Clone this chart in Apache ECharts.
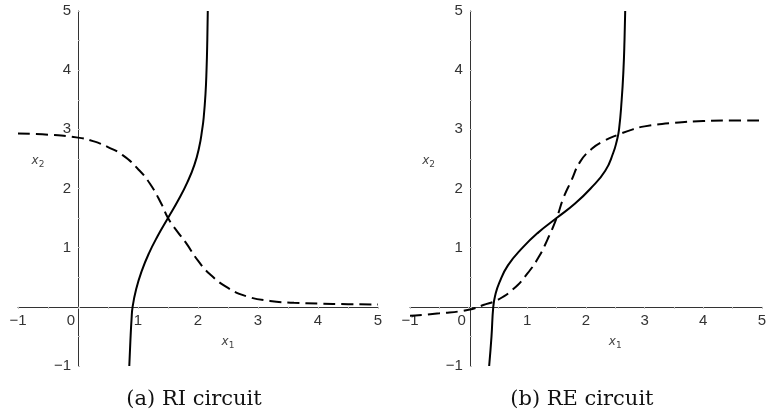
<!DOCTYPE html>
<html>
<head>
<meta charset="utf-8">
<script src="https://cdn.jsdelivr.net/npm/echarts@6/dist/echarts.min.js"></script>
<style>
  html, body { margin: 0; padding: 0; background: #fff; }
  #main { width: 769px; height: 418px; }
</style>
</head>
<body>
<div id="main"></div>
<script>
// (a) RI circuit
const riSolidX = [0.855, 0.872, 0.893, 0.91, 0.97, 1.06, 1.18, 1.33, 1.5, 1.67, 1.82, 1.94, 2.02, 2.07, 2.095, 2.125, 2.142, 2.155, 2.163];
const riSolidY = [-1, -0.6, -0.2, 0, 0.3, 0.6, 0.9, 1.2, 1.5, 1.8, 2.1, 2.4, 2.7, 3.0, 3.2, 3.6, 4.0, 4.5, 5.0];
const riDashX = [-1, -0.5, 0, 0.25, 0.5, 0.75, 1.0, 1.2, 1.4, 1.5, 1.65, 1.8, 2.0, 2.2, 2.5, 2.8, 3.2, 3.6, 4.0, 4.5, 5.0];
const riDashY = [2.93, 2.91, 2.86, 2.80, 2.70, 2.56, 2.33, 2.08, 1.72, 1.5, 1.28, 1.08, 0.78, 0.55, 0.32, 0.18, 0.10, 0.07, 0.055, 0.045, 0.04];

// (b) RE circuit
const reSolidX = [0.35, 0.39, 0.42, 0.455, 0.52, 0.67, 0.92, 1.18, 1.5, 1.82, 2.08, 2.33, 2.465, 2.525, 2.565, 2.61, 2.64, 2.658, 2.67];
const reSolidY = [-1, -0.5, 0, 0.2, 0.4, 0.7, 1.0, 1.25, 1.5, 1.75, 2.0, 2.3, 2.6, 2.8, 3.0, 3.5, 4.0, 4.5, 5.0];
const reDashX = [-1, -0.5, 0, 0.25, 0.5, 0.75, 1.0, 1.2, 1.35, 1.5, 1.62, 1.75, 1.9, 2.1, 2.3, 2.55, 2.8, 3.0, 3.5, 4.0, 4.5, 5.0];
const reDashY = [-0.15, -0.11, -0.05, 0.03, 0.12, 0.29, 0.56, 0.85, 1.15, 1.5, 1.85, 2.13, 2.45, 2.67, 2.8, 2.91, 3.0, 3.05, 3.11, 3.14, 3.15, 3.15];

const captions = ['(a) RI circuit', '(b) RE circuit'];

const GRID_H = 355;
const GRIDS = [
  { left: 18, top: 11, width: 360, height: GRID_H },
  { left: 410, top: 11, width: 359.5, height: GRID_H }
];

const zip = (xs, ys) => xs.map((x, i) => [x, ys[i]]);
const fmt = v => (v < 0 ? '\u2212' + (-v) : '' + v);
const labelFont = { fontFamily: 'Liberation Sans', fontSize: 15, color: '#333' };

// axes cross at the origin: shift them in from the grid edge by one unit
function xAxisFor(gi) {
  return {
    type: 'value', gridIndex: gi, min: -1, max: 5, interval: 1,
    offset: -GRID_H / 6,
    axisLine: { onZero: false, lineStyle: { color: '#333', width: 1 } },
    axisTick: { show: true, length: 2, lineStyle: { color: '#bbb' } },
    minorTick: { show: true, splitNumber: 2, length: 2, lineStyle: { color: '#bbb' } },
    splitLine: { show: false },
    axisLabel: Object.assign({
      margin: 7,
      formatter: v => (v === 0 ? '{o|0}' : fmt(v)),
      rich: { o: Object.assign({ padding: [0, 14, 0, 0] }, labelFont) }
    }, labelFont)
  };
}
function yAxisFor(gi) {
  return {
    type: 'value', gridIndex: gi, min: -1, max: 5, interval: 1,
    offset: -GRIDS[gi].width / 6,
    axisLine: { onZero: false, lineStyle: { color: '#333', width: 1 } },
    axisTick: { show: true, inside: true, length: 2, lineStyle: { color: '#bbb' } },
    minorTick: { show: true, splitNumber: 2, length: 2, lineStyle: { color: '#bbb' } },
    splitLine: { show: false },
    axisLabel: Object.assign({
      margin: 7,
      formatter: v => (v === 0 ? '' : fmt(v))
    }, labelFont)
  };
}

function curve(name, gi, data, dashed) {
  return {
    name: name, type: 'line', xAxisIndex: gi, yAxisIndex: gi,
    data: data, showSymbol: false, smooth: 0.5,
    clip: true,
    lineStyle: { color: '#000', width: 2, type: dashed ? [12, 6] : 'solid' }
  };
}

const chart = echarts.init(document.getElementById('main'), null, { renderer: 'canvas' });
chart.setOption({
  animation: false,
  backgroundColor: '#fff',
  grid: GRIDS,
  xAxis: [xAxisFor(0), xAxisFor(1)],
  yAxis: [yAxisFor(0), yAxisFor(1)],
  series: [
    curve('ri-solid', 0, zip(riSolidX, riSolidY), false),
    curve('ri-dash', 0, zip(riDashX, riDashY), true),
    curve('re-solid', 1, zip(reSolidX, reSolidY), false),
    curve('re-dash', 1, zip(reDashX, reDashY), true)
  ]
});

// axis names and captions, placed through the axes' own scales
const graphics = [];
[0, 1].forEach(gi => {
  const pX = chart.convertToPixel({ gridIndex: gi }, [2.5, 0]);
  const pY = chart.convertToPixel({ gridIndex: gi }, [0, 2.5]);
  const pC = chart.convertToPixel({ gridIndex: gi }, [2, -1]);
  const nameRich = {
    v: { fontFamily: 'DejaVu Sans', fontStyle: 'italic', fontSize: 12, fill: '#444' },
    s: { fontFamily: 'DejaVu Sans', fontSize: 9, fill: '#444', padding: [7, 0, 0, 0] }
  };
  graphics.push({
    type: 'text', x: pX[0], y: pX[1] + 35,
    style: { text: '{v|x}{s|1}', rich: nameRich, align: 'center', verticalAlign: 'middle' }
  });
  graphics.push({
    type: 'text', x: pY[0] - 40, y: pY[1] + 2,
    style: { text: '{v|x}{s|2}', rich: nameRich, align: 'center', verticalAlign: 'middle' }
  });
  graphics.push({
    type: 'text', x: pC[0] - 4, y: pC[1] + 34,
    style: {
      text: captions[gi], align: 'center', verticalAlign: 'middle',
      font: '21px "DejaVu Serif"', fill: '#111'
    }
  });
});
chart.setOption({ graphic: graphics });
</script>
</body>
</html>
